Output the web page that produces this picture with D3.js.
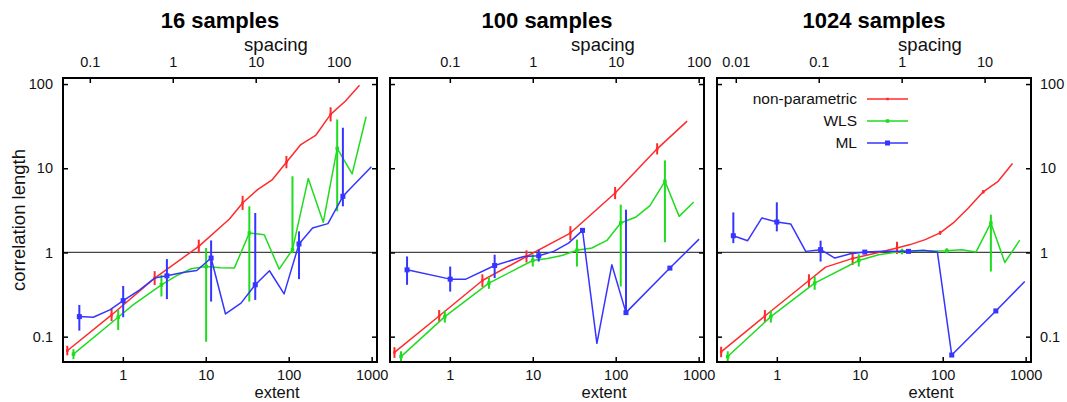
<!DOCTYPE html>
<html>
<head>
<meta charset="utf-8">
<script src="https://cdn.jsdelivr.net/npm/d3@7"></script>
<style>
  body { margin: 0; background: #fff; }
  svg { display: block; font-family: 'Liberation Sans', Arial, sans-serif; }
</style>
</head>
<body>
<div class="chart"></div>
<script>
const width = 1067;
const height = 402;

const panelTitles = ['16 samples', '100 samples', '1024 samples'];
const sampleCounts = [16, 100, 1024];
const seriesNames = ['non-parametric', 'WLS', 'ML'];
const seriesColors = ['#ff2b2b', '#1fdc1f', '#3535ff'];

const extentTicks = [1, 10, 100, 1000];
const corrTicks = [0.1, 1, 10, 100];
const spacingTicks = [[0.1, 1, 10, 100], [0.1, 1, 10, 100], [0.01, 0.1, 1, 10]];

// 16 samples
const np16X = [0.214, 0.732, 2.42, 8.24, 19.3, 27.8, 42.1, 63.7, 93.8, 140, 211, 320, 484, 714];
const np16Y = [0.068, 0.181, 0.496, 1.18, 2.5, 3.87, 5.58, 7.34, 11.8, 19.1, 24.5, 43.6, 62.8, 96.5];
const np16Err = [[0.214, 0.068, 0.060, 0.078], [0.732, 0.181, 0.153, 0.214], [2.42, 0.496, 0.41, 0.60],
  [8.24, 1.18, 0.98, 1.42], [27.8, 3.87, 3.2, 4.7], [93.8, 11.8, 10.0, 14.0], [320, 43.6, 36, 53]];
const wls16X = [0.254, 0.879, 1.33, 2.92, 4.41, 6.68, 10.1, 15.0, 22.1, 33.5, 50.7, 76.7, 111, 172, 261, 384, 582, 857];
const wls16Y = [0.062, 0.170, 0.238, 0.413, 0.528, 0.64, 0.68, 0.66, 0.652, 1.70, 1.62, 0.634, 1.08, 7.54, 2.28, 17.2, 8.58, 40.9];
const wls16Err = [[0.254, 0.062, 0.054, 0.071], [0.879, 0.170, 0.120, 0.208], [2.92, 0.413, 0.30, 0.543],
  [10.1, 0.68, 0.087, 1.13], [33.5, 1.70, 0.261, 3.53], [111, 1.08, 0.98, 8.03], [384, 17.2, 3.08, 38]];
const ml16X = [0.299, 0.44, 0.698, 1.01, 1.6, 2.42, 3.40, 5.3, 7.8, 11.6, 17.3, 26.6, 39.5, 58.6, 88, 133, 194, 297, 450, 993];
const ml16Y = [0.173, 0.170, 0.208, 0.268, 0.36, 0.496, 0.528, 0.578, 0.61, 0.858, 0.186, 0.25, 0.413, 0.606, 0.322, 1.26, 1.95, 2.2, 4.64, 10.4];
const ml16Err = [[0.299, 0.173, 0.118, 0.238], [1.01, 0.268, 0.170, 0.40], [3.40, 0.528, 0.279, 0.834],
  [11.6, 0.858, 0.261, 1.39], [39.5, 0.413, 0.273, 2.94], [133, 1.26, 0.482, 1.78], [450, 4.64, 3.53, 30.3]];

// 100 samples
const np100X = [0.215, 0.744, 2.47, 8.4, 28.4, 98.4, 316, 726];
const np100Y = [0.065, 0.176, 0.464, 0.896, 1.70, 5.09, 17.0, 36.3];
const np100Err = [[0.215, 0.065, 0.056, 0.075], [0.744, 0.176, 0.150, 0.207], [2.47, 0.464, 0.39, 0.55],
  [8.4, 0.896, 0.76, 1.06], [28.4, 1.70, 1.40, 2.05], [98.4, 5.09, 4.3, 6.0], [316, 17.0, 14.6, 19.8]];
const wls100X = [0.258, 0.871, 2.96, 10, 15, 22.5, 34.1, 51.6, 78.2, 115, 176, 259, 392, 582, 873];
const wls100Y = [0.058, 0.173, 0.432, 0.803, 0.85, 0.92, 1.06, 1.13, 1.39, 2.24, 2.64, 3.6, 7.0, 2.68, 3.98];
const wls100Err = [[0.258, 0.058, 0.050, 0.067], [0.871, 0.173, 0.147, 0.204], [2.96, 0.432, 0.37, 0.51],
  [10, 0.803, 0.68, 0.95], [34.1, 1.06, 0.68, 1.42], [115, 2.24, 0.394, 3.7], [392, 7.0, 1.32, 12.4]];
const ml100X = [0.305, 1.01, 1.56, 3.47, 7.8, 11.8, 17.9, 27, 39.8, 59.3, 89.8, 133, 450, 1012];
const ml100Y = [0.622, 0.482, 0.482, 0.70, 0.896, 0.913, 1.03, 1.29, 1.83, 0.0834, 0.714, 0.193, 0.652, 1.44];
const ml100Err = [[0.305, 0.622, 0.413, 0.896], [1.01, 0.482, 0.343, 0.68], [3.47, 0.70, 0.496, 0.94],
  [11.8, 0.913, 0.78, 1.08], [39.8, 1.83, 1.7, 1.95], [133, 0.193, 0.193, 3.22], [450, 0.652, 0.62, 0.69]];

// 1024 samples
const np1024X = [0.213, 0.718, 2.44, 3.87, 8.2, 15.4, 28.1, 40.6, 61.5, 93, 134, 204, 308, 466, 694];
const np1024Y = [0.066, 0.176, 0.464, 0.67, 0.85, 0.98, 1.13, 1.24, 1.42, 1.71, 2.24, 3.38, 5.25, 7.0, 11.4];
const np1024Err = [[0.213, 0.066, 0.057, 0.076], [0.718, 0.176, 0.150, 0.207], [2.44, 0.464, 0.39, 0.55],
  [8.2, 0.85, 0.71, 1.0], [28.1, 1.13, 0.96, 1.34], [93, 1.71, 1.62, 1.80], [308, 5.25, 5.0, 5.5]];
const wls1024X = [0.256, 0.847, 2.86, 9.73, 16.9, 32.3, 112, 169, 252, 381, 561, 849];
const wls1024Y = [0.058, 0.173, 0.432, 0.803, 0.94, 1.03, 1.05, 1.08, 1.01, 2.24, 0.76, 1.40];
const wls1024Err = [[0.256, 0.058, 0.050, 0.067], [0.847, 0.173, 0.147, 0.204], [2.86, 0.432, 0.36, 0.52],
  [9.73, 0.803, 0.68, 0.95], [32.3, 1.03, 0.95, 1.11], [112, 1.05, 0.98, 1.12], [381, 2.24, 0.594, 2.81]];
const ml1024X = [0.299, 0.445, 0.661, 1.0, 1.47, 2.23, 3.37, 5.01, 7.73, 11.5, 20, 38.7, 58.6, 86.3, 128.5, 437, 975];
const ml1024Y = [1.58, 1.38, 2.57, 2.3, 2.18, 1.03, 1.08, 0.858, 0.965, 1.01, 1.03, 1.03, 1.06, 1.01, 0.0605, 0.202, 0.452];
const ml1024Err = [[0.299, 1.58, 1.29, 2.99], [1.0, 2.3, 1.78, 3.94], [3.37, 1.08, 0.78, 1.38],
  [11.5, 1.01, 0.97, 1.05], [38.7, 1.03, 1.0, 1.06], [128.5, 0.0605, 0.058, 0.063], [437, 0.202, 0.195, 0.21]];

const panelSeries = [
  [[np16X, np16Y, np16Err], [wls16X, wls16Y, wls16Err], [ml16X, ml16Y, ml16Err]],
  [[np100X, np100Y, np100Err], [wls100X, wls100Y, wls100Err], [ml100X, ml100Y, ml100Err]],
  [[np1024X, np1024Y, np1024Err], [wls1024X, wls1024Y, wls1024Err], [ml1024X, ml1024Y, ml1024Err]],
];

const panelLeft = [63, 390, 717];
const panelWidth = 314;
const plotTop = 78;
const plotBottom = 362;
const extentDomain = [0.19, 1160];
const corrDomain = [0.05, 118];
const markerSize = [2.5, 3.5, 5];

const svg = d3.select('.chart').append('svg').attr('width', width).attr('height', height);

const fmt = d3.format('~g');

panelTitles.forEach((title, i) => {
  const left = panelLeft[i];
  const right = left + panelWidth;
  const cx = (left + right) / 2;
  const s = Math.sqrt(sampleCounts[i]);

  const x = d3.scaleLog().domain(extentDomain).range([left, right]);
  const xs = d3.scaleLog().domain(extentDomain.map((d) => d / s)).range([left, right]);
  const y = d3.scaleLog().domain(corrDomain).range([plotBottom, plotTop]);

  const g = svg.append('g');

  g.append('clipPath').attr('id', `clip${i}`)
    .append('rect').attr('x', left).attr('y', plotTop).attr('width', panelWidth).attr('height', plotBottom - plotTop);

  // reference line at 1
  g.append('line')
    .attr('x1', left).attr('x2', right)
    .attr('y1', y(1)).attr('y2', y(1))
    .attr('stroke', '#444').attr('stroke-width', 1.2);

  const plot = g.append('g').attr('clip-path', `url(#clip${i})`);
  const line = d3.line().x((d) => x(d[0])).y((d) => y(d[1]));

  panelSeries[i].forEach(([sx, sy, errs], k) => {
    const color = seriesColors[k];
    plot.append('path')
      .datum(sx.map((v, j) => [v, sy[j]]))
      .attr('fill', 'none')
      .attr('stroke', color)
      .attr('stroke-width', 1.5)
      .attr('stroke-linejoin', 'round')
      .attr('d', line);

    plot.selectAll(null).data(errs).enter().append('line')
      .attr('x1', (d) => x(d[0])).attr('x2', (d) => x(d[0]))
      .attr('y1', (d) => y(d[2])).attr('y2', (d) => y(d[3]))
      .attr('stroke', color).attr('stroke-width', 2);

    const m = markerSize[k];
    plot.selectAll(null).data(errs).enter().append('rect')
      .attr('x', (d) => x(d[0]) - m / 2).attr('y', (d) => y(d[1]) - m / 2)
      .attr('width', m).attr('height', m)
      .attr('fill', color);
  });

  // axes
  const axisStyle = (sel) => {
    sel.select('.domain').remove();
    sel.selectAll('line').attr('stroke', '#000').attr('stroke-width', 1.5);
    sel.selectAll('text').style('font-size', '14.5px').attr('fill', '#111');
  };

  g.append('g').attr('transform', `translate(0,${plotBottom})`)
    .call(d3.axisBottom(x).tickValues(extentTicks).tickFormat(fmt).tickSize(-5).tickSizeOuter(0).tickPadding(8))
    .call(axisStyle);

  g.append('g').attr('transform', `translate(0,${plotTop})`)
    .call(d3.axisTop(xs).tickValues(spacingTicks[i]).tickFormat(fmt).tickSize(-5).tickSizeOuter(0).tickPadding(11))
    .call(axisStyle);

  g.append('g').attr('transform', `translate(${left},0)`)
    .call(d3.axisLeft(y).tickValues(corrTicks).tickFormat(i === 0 ? fmt : () => '').tickSize(-5).tickSizeOuter(0).tickPadding(10))
    .call(axisStyle);

  g.append('g').attr('transform', `translate(${right},0)`)
    .call(d3.axisRight(y).tickValues(corrTicks).tickFormat(i === 2 ? fmt : () => '').tickSize(-5).tickSizeOuter(0).tickPadding(9))
    .call(axisStyle);

  g.append('rect')
    .attr('x', left).attr('y', plotTop)
    .attr('width', panelWidth).attr('height', plotBottom - plotTop)
    .attr('fill', 'none').attr('stroke', '#000').attr('stroke-width', 2);

  g.append('text')
    .attr('x', cx).attr('y', 28)
    .attr('text-anchor', 'middle')
    .style('font-size', '22px').style('font-weight', 'bold')
    .text(title);

  g.append('text')
    .attr('x', cx + 56).attr('y', 51)
    .attr('text-anchor', 'middle')
    .style('font-size', '18.5px')
    .attr('fill', '#111')
    .text('spacing');

  g.append('text')
    .attr('x', cx + 57).attr('y', 398.3)
    .attr('text-anchor', 'middle')
    .style('font-size', '16.5px')
    .attr('fill', '#111')
    .text('extent');
});

svg.append('text')
  .attr('transform', 'rotate(-90)')
  .attr('x', -(plotTop + plotBottom) / 2)
  .attr('y', 25)
  .attr('text-anchor', 'middle')
  .style('font-size', '18.5px')
  .attr('fill', '#111')
  .text('correlation length');

// legend in third panel
const legendY = [99, 121, 143];
const legend = svg.append('g');
seriesNames.forEach((name, k) => {
  legend.append('text')
    .attr('x', 857).attr('y', legendY[k])
    .attr('dy', '0.35em')
    .attr('text-anchor', 'end')
    .style('font-size', '15.5px')
    .attr('fill', '#111')
    .text(name);
  legend.append('line')
    .attr('x1', 867).attr('x2', 908)
    .attr('y1', legendY[k]).attr('y2', legendY[k])
    .attr('stroke', seriesColors[k]).attr('stroke-width', 1.5);
  const m = markerSize[k];
  legend.append('rect')
    .attr('x', 887.5 - m / 2).attr('y', legendY[k] - m / 2)
    .attr('width', m).attr('height', m)
    .attr('fill', seriesColors[k]);
});
</script>
</body>
</html>
